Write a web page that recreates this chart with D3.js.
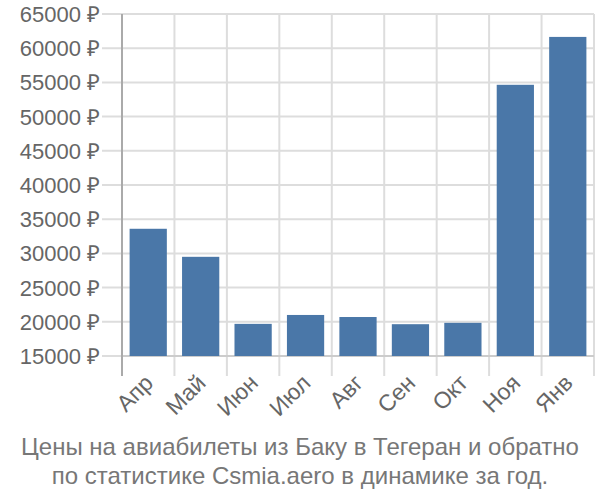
<!DOCTYPE html>
<html><head><meta charset="utf-8">
<script src="https://cdn.jsdelivr.net/npm/d3@7"></script>
<style>body{margin:0;background:#fff}svg{display:block}text{font-family:"Liberation Sans",Arial,sans-serif}</style>
</head><body><svg id="c" width="600" height="500"></svg>
<script>
const months = ["Апр","Май","Июн","Июл","Авг","Сен","Окт","Ноя","Янв"];
const prices = [33600, 29500, 19700, 21000, 20700, 19650, 19850, 54650, 61650];
const yTicks = [15000,20000,25000,30000,35000,40000,45000,50000,55000,60000,65000];
const titleLines = ["Цены на авиабилеты из Баку в Тегеран и обратно","по статистике Csmia.aero в динамике за год."];

const svg = d3.select("#c");
const L=122, R=594, T=14, B=356;
const x = d3.scaleBand().domain(months).range([L,R]).paddingInner(0.29).paddingOuter(0.145);
const y = d3.scaleLinear().domain([15000,65000]).range([B,T]);
const grid = "#dddddd";

svg.append("g").selectAll("line").data(yTicks).join("line")
  .attr("x1",L-20).attr("x2",R).attr("y1",d=>y(d)).attr("y2",d=>y(d))
  .attr("stroke",grid).attr("stroke-width",2);
const bounds = months.map(m=>x(m)-x.step()*x.paddingInner()/2).concat([R]);
svg.append("g").selectAll("line").data(bounds.slice(1)).join("line")
  .attr("x1",d=>d).attr("x2",d=>d).attr("y1",T).attr("y2",B+20)
  .attr("stroke",grid).attr("stroke-width",2);
svg.append("line").attr("x1",L).attr("x2",R).attr("y1",B).attr("y2",B).attr("stroke","#cccccc").attr("stroke-width",2);
svg.append("line").attr("x1",L).attr("x2",L).attr("y1",T).attr("y2",B+20).attr("stroke","#aaaaaa").attr("stroke-width",2);

svg.append("g").selectAll("rect").data(prices).join("rect")
  .attr("x",(d,i)=>x(months[i])).attr("width",x.bandwidth())
  .attr("y",d=>y(d)).attr("height",d=>B-y(d))
  .attr("fill","#4a77a8");

svg.append("g").selectAll("text").data(yTicks).join("text")
  .attr("x",L-22).attr("y",d=>y(d)).attr("dy","0.36em").attr("text-anchor","end")
  .attr("font-size",22).attr("fill","#666").text(d=>d+" ₽");

svg.append("g").selectAll("text").data(months).join("text")
  .attr("transform",m=>`translate(${x(m)+x.bandwidth()/2-5},${B+17}) rotate(-45)`)
  .attr("text-anchor","end").attr("dy","0.7em").attr("font-size",23).attr("fill","#666").text(m=>m);

svg.append("g").selectAll("text").data(titleLines).join("text")
  .attr("x",300).attr("y",(d,i)=>455+i*29).attr("text-anchor","middle")
  .attr("font-size",24).attr("fill","#777").text(d=>d);
</script></body></html>
